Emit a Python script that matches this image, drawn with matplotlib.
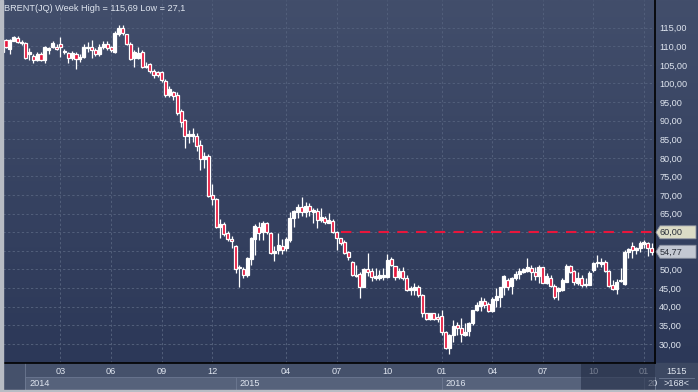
import numpy as np
import matplotlib
matplotlib.use('Agg')
import matplotlib.pyplot as plt
from matplotlib.patches import Rectangle, Polygon
from matplotlib.colors import LinearSegmentedColormap

W, H, DPI = 698, 392, 100

title = "BRENT(JQ) Week High = 115,69 Low = 27,1"

opens = [108.5, 111.7, 109.2, 111.5, 112.3, 111.2, 110.8, 107.8, 107.4, 106.3,
         107.9, 106.3, 109.0, 109.9, 109.7, 110.5, 108.4, 108.1, 106.8, 107.8,
         106.5, 107.2, 109.5, 109.7, 109.0, 107.8, 109.7, 110.5, 109.7, 108.6,
         113.2, 114.8, 113.2, 110.5, 106.9, 106.8, 108.4, 104.4, 105.2, 103.4,
         103.1, 103.1, 100.8, 96.8, 97.7, 96.9, 92.5, 90.2, 85.9, 85.8,
         85.9, 83.5, 79.6, 80.5, 70.0, 68.9, 61.4, 62.2, 59.8, 58.3,
         56.3, 50.3, 50.1, 48.6, 52.8, 58.1, 61.5, 60.1, 62.4, 59.8,
         54.4, 55.3, 56.4, 55.7, 57.9, 63.9, 65.4, 66.9, 65.4, 67.0,
         65.4, 65.7, 63.4, 63.9, 62.6, 63.0, 60.2, 58.4, 57.5, 54.8,
         52.1, 48.3, 48.8, 45.4, 50.1, 49.5, 47.8, 47.6, 48.1, 48.1,
         52.8, 51.0, 48.1, 49.7, 47.6, 44.5, 44.5, 45.2, 43.1, 38.2,
         36.6, 38.2, 37.3, 37.5, 33.3, 28.8, 32.4, 35.1, 34.4, 32.4,
         33.6, 35.5, 39.1, 40.2, 41.6, 40.8, 38.9, 41.8, 42.7, 45.2,
         47.2, 45.6, 47.8, 48.7, 49.4, 49.6, 50.3, 49.4, 48.3, 50.6,
         46.5, 47.8, 45.6, 44.2, 44.4, 46.7, 51.0, 49.6, 46.4, 47.8,
         45.9, 45.8, 49.9, 51.7, 51.5, 52.1, 49.7, 45.8, 44.7, 46.8,
         46.0, 54.6, 56.2, 55.2, 55.7, 56.9, 57.2, 55.9]
highs = [112.0, 111.9, 111.9, 112.8, 112.9, 111.6, 111.2, 109.5, 108.0, 108.6,
         108.6, 110.0, 109.9, 111.5, 110.5, 112.6, 109.3, 108.6, 108.8, 108.4,
         108.0, 110.5, 111.2, 111.7, 109.5, 110.5, 111.4, 111.4, 110.2, 114.0,
         115.7, 115.6, 113.4, 111.2, 109.0, 109.7, 109.0, 105.9, 105.6, 103.8,
         103.4, 103.4, 101.2, 99.4, 98.0, 97.7, 93.1, 90.5, 87.6, 88.0,
         86.6, 84.7, 81.7, 81.0, 72.9, 69.2, 63.7, 62.8, 60.3, 58.9,
         56.5, 51.3, 50.6, 53.3, 58.8, 62.2, 62.8, 63.0, 62.7, 60.1,
         56.4, 59.9, 58.2, 58.8, 65.4, 66.1, 67.5, 69.5, 68.1, 67.9,
         66.5, 66.6, 66.6, 64.3, 65.1, 63.5, 60.4, 58.6, 57.8, 55.0,
         52.4, 51.2, 49.2, 50.5, 54.5, 50.3, 50.3, 49.9, 50.3, 54.2,
         53.4, 51.0, 50.5, 50.8, 48.5, 45.6, 46.3, 45.8, 43.3, 38.3,
         38.4, 38.4, 38.2, 39.1, 33.6, 32.7, 36.4, 36.0, 36.9, 35.5,
         36.0, 39.2, 41.3, 42.5, 42.3, 41.3, 42.5, 44.9, 45.4, 48.5,
         47.6, 48.1, 49.6, 50.3, 50.3, 53.0, 51.2, 50.8, 51.2, 50.8,
         49.0, 48.5, 46.0, 45.2, 47.8, 51.5, 51.2, 49.9, 49.2, 48.5,
         47.6, 49.6, 52.1, 53.9, 53.0, 52.6, 49.9, 47.2, 47.4, 50.3,
         55.2, 55.7, 57.5, 56.1, 57.7, 58.0, 57.5, 57.2]
lows = [108.3, 109.5, 107.8, 111.3, 110.9, 110.3, 106.6, 106.3, 105.4, 106.0,
        106.0, 105.4, 107.8, 109.5, 108.9, 107.2, 107.8, 105.4, 106.3, 103.8,
        105.8, 106.8, 108.6, 106.8, 107.5, 107.5, 109.2, 109.0, 108.6, 108.2,
        112.8, 113.0, 110.3, 106.2, 104.5, 106.5, 104.2, 104.1, 102.7, 101.5,
        101.8, 100.5, 96.5, 96.5, 95.6, 91.6, 88.2, 82.6, 84.0, 84.3,
        81.8, 76.8, 77.4, 69.6, 67.4, 61.2, 58.4, 59.1, 57.7, 55.8,
        49.0, 45.2, 47.7, 47.9, 51.3, 54.0, 57.9, 58.0, 59.6, 54.1,
        52.2, 54.1, 54.1, 55.0, 57.4, 61.4, 63.9, 64.3, 64.2, 64.3,
        62.5, 61.1, 62.7, 62.3, 62.4, 59.9, 55.2, 56.6, 54.2, 52.6,
        48.2, 48.1, 42.3, 45.2, 48.2, 46.8, 47.2, 47.2, 47.2, 47.6,
        51.0, 47.2, 47.5, 47.2, 44.1, 43.1, 43.1, 42.6, 37.3, 36.5,
        36.4, 36.5, 36.0, 32.4, 28.5, 27.3, 30.6, 32.4, 30.6, 32.0,
        32.0, 35.0, 38.9, 38.9, 39.7, 38.7, 38.7, 40.0, 40.0, 43.1,
        44.5, 43.3, 47.2, 47.4, 49.0, 49.4, 47.2, 47.2, 46.5, 46.3,
        46.0, 45.2, 42.1, 41.7, 44.2, 46.6, 49.0, 45.8, 45.8, 45.2,
        45.2, 45.8, 49.4, 50.8, 50.8, 49.4, 45.2, 44.5, 43.4, 46.7,
        45.8, 53.0, 53.0, 54.3, 54.8, 55.7, 53.5, 53.9]
closes = [111.5, 109.7, 111.7, 112.4, 111.2, 110.8, 106.9, 108.6, 106.3, 107.9,
          106.3, 109.7, 109.5, 110.8, 109.2, 109.7, 108.8, 106.9, 108.1, 106.5,
          107.2, 109.9, 109.9, 109.0, 107.8, 109.9, 110.5, 109.5, 109.0, 113.5,
          114.8, 113.5, 110.5, 106.5, 108.4, 108.1, 104.5, 104.6, 103.4, 102.3,
          102.3, 100.9, 96.9, 98.4, 96.6, 92.2, 89.7, 85.9, 86.5, 86.3,
          83.2, 79.6, 80.5, 69.8, 68.9, 61.5, 62.2, 59.6, 58.2, 57.6,
          50.1, 50.8, 48.6, 53.0, 58.4, 61.7, 59.9, 62.5, 60.0, 54.4,
          55.1, 56.6, 55.3, 58.3, 63.9, 65.7, 66.9, 65.4, 67.2, 65.7,
          66.1, 63.4, 64.0, 62.7, 63.3, 60.2, 58.6, 57.0, 54.5, 53.4,
          48.5, 48.6, 45.4, 50.1, 49.2, 48.1, 48.3, 48.5, 48.5, 52.6,
          51.3, 48.1, 49.7, 47.6, 44.5, 45.0, 45.2, 43.1, 38.2, 36.6,
          38.2, 36.8, 36.6, 33.3, 28.8, 32.4, 34.8, 34.2, 32.7, 33.3,
          35.5, 39.1, 40.4, 41.6, 40.5, 38.9, 42.2, 42.9, 45.2, 48.3,
          45.2, 47.8, 48.7, 49.6, 50.0, 50.8, 49.2, 48.3, 50.8, 46.5,
          48.3, 45.6, 42.5, 45.0, 47.2, 51.0, 49.4, 46.7, 47.8, 45.8,
          46.2, 49.0, 51.7, 52.1, 52.1, 49.7, 45.6, 44.7, 46.7, 47.2,
          54.8, 55.4, 55.2, 55.7, 57.0, 57.5, 55.7, 54.77]

month_labels = ['03', '06', '09', '12', '04', '07', '10', '01', '04', '07', '10', '01']
month_bars = [15, 28, 41, 54, 73, 86, 99, 113, 126, 139, 152, 165]
year_labels = ['2014', '2015', '2016', '20']
year_bars = [6, 60, 113, 165]
price_ticks = list(range(30, 120, 5))
ref_level = 60.0
ref_start_bar = 87
last_close = closes[-1]
bars_total = ">168<"
counter = "1515"

# ---------------- geometry (pixels) ----------------
PL, PR, PB = 3, 655, 363          # plot left/right/bottom in px
BAR_PX, BAR0_PX = 3.89, 2.1
Y60_PX, PX_PER_UNIT = 232.3, 3.72

xlim = ((PL - BAR0_PX) / BAR_PX, (PR - BAR0_PX) / BAR_PX)
ylim = (60 - (PB - Y60_PX) / PX_PER_UNIT, 60 + Y60_PX / PX_PER_UNIT)

plt.rcParams['font.family'] = ['Liberation Sans', 'DejaVu Sans']
TXT = '#dfe5ef'
RED = '#e8163c'
FS = 6.6

fig = plt.figure(figsize=(W / DPI, H / DPI), dpi=DPI)

# pixel-space background layer
bg = fig.add_axes([0, 0, 1, 1])
bg.set_xlim(0, W)
bg.set_ylim(H, 0)
bg.axis('off')
grad = np.linspace(0, 1, 256).reshape(-1, 1)
cmap = LinearSegmentedColormap.from_list('g', ['#424e6b', '#2c3858'])
bg.imshow(grad, extent=(0, W, PB, 0), cmap=cmap, aspect='auto', zorder=0,
          interpolation='bilinear')

# time panel
bg.add_patch(Rectangle((0, PB), W, H - PB, color='#3c4862', zorder=1))
bg.add_patch(Rectangle((0, PB), PR, H - PB, facecolor='#45516b', edgecolor='none', zorder=1))

# year boxes
for i, lab in enumerate(year_labels):
    x0 = BAR0_PX + BAR_PX * year_bars[i]
    x1 = BAR0_PX + BAR_PX * year_bars[i + 1] if i + 1 < len(year_bars) else W
    x1 = min(x1, PR)
    bg.add_patch(Rectangle((x0, 377), x1 - x0, 13, facecolor='#56627b',
                           edgecolor='#6c7891', linewidth=0.6, zorder=2))
    bg.text(x0 + 4, 383.5, lab, color=TXT, fontsize=FS, va='center', ha='left',
            zorder=3, clip_on=True)
bg.plot([BAR0_PX + BAR_PX * year_bars[0]] * 2, [PB, 390], color='#6c7891', lw=0.6, zorder=2)

# main axes
ax = fig.add_axes([PL / W, 1 - PB / H, (PR - PL) / W, PB / H])
ax.patch.set_alpha(0)
ax.set_xlim(*xlim)
ax.set_ylim(*ylim)

for s in ['top', 'left']:
    ax.spines[s].set_visible(False)
ax.spines['right'].set_color('black')
ax.spines['right'].set_linewidth(1.2)
ax.spines['bottom'].set_color('black')
ax.spines['bottom'].set_linewidth(1.2)

ax.yaxis.tick_right()
ax.set_yticks(price_ticks)
ax.set_yticklabels([f"{v:.2f}".replace('.', ',') for v in price_ticks])
ax.tick_params(axis='y', length=0, pad=3, labelsize=FS, labelcolor=TXT)
ax.set_xticks(month_bars)
ax.set_xticklabels(month_labels)
ax.tick_params(axis='x', length=0, pad=3.2, labelsize=FS, labelcolor=TXT)
ax.grid(True, color='#515e7a', linestyle=(0, (2.2, 2.2)), linewidth=0.75)
ax.set_axisbelow(True)

# candles
x = np.arange(len(opens))
o = np.array(opens); c = np.array(closes); hi = np.array(highs); lo = np.array(lows)
bw = 0.78
lw = 0.9
ax.vlines(x, lo, hi, color='white', linewidth=lw, zorder=3)
for xi, oi, ci in zip(x, o, c):
    down = ci < oi
    bot = min(oi, ci)
    h = max(abs(ci - oi), 0.3)
    ax.add_patch(Rectangle((xi - bw / 2, bot), bw, h,
                           facecolor=RED if down else 'white',
                           edgecolor='white', linewidth=lw, zorder=4))

# reference dashed line
ax.plot([ref_start_bar, xlim[1]], [ref_level, ref_level], color=RED,
        linewidth=1.5, linestyle=(0, (5, 4)), zorder=5, clip_on=True)

# overlay layer (above tick labels)
ov = fig.add_axes([0, 0, 1, 1])
ov.set_xlim(0, W)
ov.set_ylim(H, 0)
ov.axis('off')
ov.patch.set_alpha(0)

ov.text(4, 8, title, color=TXT, fontsize=FS, va='center', ha='left', zorder=10)


def ypx(v):
    return Y60_PX - (v - 60) * PX_PER_UNIT


for val, fc in [(ref_level, '#dcdcc6'), (last_close, '#c3c8d2')]:
    yc = ypx(val)
    poly = Polygon([(PR + 1, yc), (PR + 5, yc - 6.5), (W - 2, yc - 6.5), (W - 2, yc + 6.5),
                    (PR + 5, yc + 6.5)], closed=True, facecolor=fc, edgecolor='#8a90a0',
                   linewidth=0.6, zorder=10)
    ov.add_patch(poly)
    ov.text(PR + 5, yc + 0.5, f"{val:.2f}".replace('.', ','), color='#2a2f3a',
            fontsize=FS, va='center', ha='left', zorder=11)

# dark overlay at right of time panel
ov.add_patch(Rectangle((581, PB + 1), PR - 581, H - PB - 3, facecolor='#1f2942',
                       alpha=0.55, edgecolor='none', zorder=20))

# right bottom info box
ov.text((PR + W) / 2, 371.5, counter, color=TXT, fontsize=FS, ha='center', va='center', zorder=10)
ov.plot([PR + 4, W - 4], [377.5, 377.5], color='#6c7891', lw=0.6, zorder=10)
ov.text((PR + W) / 2, 384, bars_total, color=TXT, fontsize=FS, ha='center', va='center', zorder=10)

# outer frame
ov.add_patch(Rectangle((0, 0), 2.5, H, color='#b8bcc4', zorder=30))
ov.add_patch(Rectangle((0, H - 2.5), W, 2.5, color='#b8bcc4', zorder=30))

fig.savefig('out.png', dpi=DPI)
